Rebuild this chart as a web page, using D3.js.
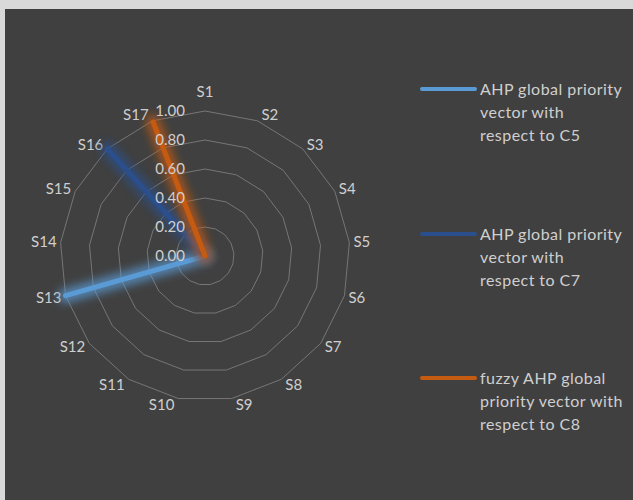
<!DOCTYPE html>
<html><head><meta charset="utf-8">
<script src="https://cdn.jsdelivr.net/npm/d3@7"></script>
<style>
html,body{margin:0;padding:0;background:#d9d9d9;}
svg{display:block;}
</style></head>
<body>
<svg id="chart" width="633" height="500"></svg>
<script>
const categories = ["S1","S2","S3","S4","S5","S6","S7","S8","S9","S10","S11","S12","S13","S14","S15","S16","S17"];
const seriesNames = [
  ["AHP global priority","vector with","respect to C5"],
  ["AHP global priority","vector with","respect to C7"],
  ["fuzzy AHP global","priority vector with","respect to C8"]
];
const valuesC5 = [0,0,0,0,0,0,0,0,0,0,0,0,1.00,0,0,0,0];
const valuesC7 = [0,0,0,0,0,0,0,0,0,0,0,0,0,0,0,1.00,0];
const valuesC8 = [0,0,0,0,0,0,0,0,0,0,0,0,0,0,0,0,0.99];
const tickValues = [0,0.2,0.4,0.6,0.8,1.0];
const colors = ["#5B9BD5","#2B4F8C","#C55A11"];
const textColor = "#cfcfcf";
const fontFam = "Lato, 'Open Sans', sans-serif";

const svg = d3.select("#chart");
svg.append("rect").attr("x",5).attr("y",9).attr("width",628).attr("height",491).attr("fill","#404040");

const defs = svg.append("defs");
const f = defs.append("filter").attr("id","soft").attr("x","-50%").attr("y","-50%").attr("width","200%").attr("height","200%");
f.append("feGaussianBlur").attr("in","SourceGraphic").attr("stdDeviation",4.5);

const cx = 205, cy = 256, R = 145;
const r = d3.scaleLinear().domain([0,1]).range([0,R]);
const n = categories.length;
const angle = i => i*2*Math.PI/n;
const pt = (i,v) => [cx + r(v)*Math.sin(angle(i)), cy - r(v)*Math.cos(angle(i))];

const g = svg.append("g");
// grid rings
tickValues.filter(t=>t>0).forEach(t=>{
  const pts = categories.map((c,i)=>pt(i,t));
  g.append("path").attr("d", d3.line()(pts)+"Z")
    .attr("fill","none").attr("stroke","#767676").attr("stroke-width",1);
});

// category labels
const cat = g.selectAll(".cat").data(categories).enter().append("text")
  .attr("fill",textColor).attr("font-family",fontFam).attr("font-size",15)
  .attr("text-anchor","middle").attr("dy","0.35em")
  .text(d=>d);
cat.each(function(d,i){
  const w = this.getComputedTextLength();
  const s = Math.sin(angle(i)), c = Math.cos(angle(i));
  const p = pt(i,1);
  let x, y;
  if (Math.abs(s) < 1e-6) { x = p[0]; y = p[1] - 19; }
  else { x = p[0] + Math.sign(s)*(w/2 + 4); y = p[1] - c*6; }
  d3.select(this).attr("x",x).attr("y",y);
});

// series
const allSeries = [valuesC5, valuesC7, valuesC8];
const lineGen = d3.line();
[0,1,2].forEach(si=>{
  const vals = allSeries[si];
  const pts = vals.map((v,i)=>pt(i,v));
  const d = lineGen(pts)+"Z";
  g.append("path").attr("d", d)
    .attr("fill","none").attr("stroke",colors[si]).attr("stroke-width",15).attr("stroke-opacity",0.7)
    .attr("stroke-linejoin","round").attr("stroke-linecap","round")
    .attr("filter","url(#soft)");
  g.append("path").attr("d", d)
    .attr("fill","none").attr("stroke",colors[si]).attr("stroke-width",5)
    .attr("stroke-linejoin","round").attr("stroke-linecap","round");
});

// tick labels (on top)
g.selectAll(".tick").data(tickValues).enter().append("text")
  .attr("x", cx-20).attr("y", d=>cy - r(d)).attr("dy","0.35em")
  .attr("text-anchor","end").attr("fill",textColor)
  .attr("font-family",fontFam).attr("font-size",15)
  .text(d=>d3.format(".2f")(d));

// legend
const legendY = [89, 234, 378];
seriesNames.forEach((lines,i)=>{
  const lg = svg.append("g");
  lg.append("line").attr("x1",422).attr("x2",475).attr("y1",legendY[i]).attr("y2",legendY[i])
    .attr("stroke",colors[i]).attr("stroke-width",4).attr("stroke-linecap","round");
  lines.forEach((t,j)=>{
    lg.append("text").attr("x",480).attr("y",legendY[i]+j*23).attr("dy","0.35em")
      .attr("fill",textColor).attr("font-family",fontFam).attr("font-size",16)
      .attr("letter-spacing",0.45)
      .text(t);
  });
});
</script>
</body></html>
